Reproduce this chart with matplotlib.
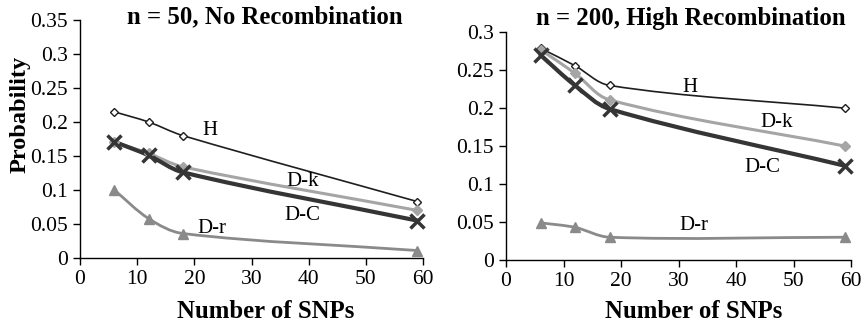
import matplotlib
matplotlib.use("Agg")
import matplotlib.pyplot as plt
from matplotlib.path import Path
from matplotlib.patches import PathPatch
import numpy as np

plt.rcParams['font.family'] = ['Liberation Serif', 'DejaVu Serif']

snps = [6, 12, 18, 59]

# Panel 1: n = 50, No Recombination
left_H = [0.215, 0.200, 0.180, 0.083]
left_Dk = [0.170, 0.154, 0.134, 0.070]
left_DC = [0.171, 0.151, 0.126, 0.055]
left_Dr = [0.100, 0.058, 0.036, 0.011]

# Panel 2: n = 200, High Recombination
right_H = [0.279, 0.256, 0.230, 0.200]
right_Dk = [0.277, 0.246, 0.211, 0.150]
right_DC = [0.270, 0.230, 0.199, 0.124]
right_Dr = [0.049, 0.043, 0.030, 0.030]

series_names = ['H', 'D-k', 'D-C', 'D-r']
titles = ['n = 50, No Recombination', 'n = 200, High Recombination']
xticks = [0, 10, 20, 30, 40, 50, 60]
left_yticks = [0, 0.05, 0.1, 0.15, 0.2, 0.25, 0.3, 0.35]
left_yticklabels = ['0', '0.05', '0.1', '0.15', '0.2', '0.25', '0.3', '0.35']
right_yticks = [0, 0.05, 0.1, 0.15, 0.2, 0.25, 0.3]
right_yticklabels = ['0', '0.05', '0.1', '0.15', '0.2', '0.25', '0.3']

styles = {
    'H':   dict(color='#1e1e1e', lw=1.2, marker='D', ms=4.5, mfc='white', mec='#1e1e1e', mew=1.0),
    'D-k': dict(color='#a5a5a5', lw=2.2, marker='D', ms=5.5, mfc='#a5a5a5', mec='#a5a5a5', mew=1.0),
    'D-C': dict(color='#353535', lw=3.0, marker='x', ms=10, mfc='#353535', mec='#353535', mew=2.5),
    'D-r': dict(color='#8a8a8a', lw=2.0, marker='^', ms=7.5, mfc='#8a8a8a', mec='#8a8a8a', mew=1.0),
}


def smooth_path(xs, ys, sx, sy, k=0.33):
    # smoothing computed in pixel-like space (sx, sy = pixels per data unit)
    pts = np.column_stack([np.asarray(xs, float) * sx, np.asarray(ys, float) * sy])
    n = len(pts)
    verts = [pts[0]]
    codes = [Path.MOVETO]

    def tangent(i):
        a = pts[i - 1] if i > 0 else pts[i]
        b = pts[i + 1] if i + 1 < n else pts[i]
        d = b - a
        return d / np.hypot(*d)

    for i in range(n - 1):
        p0, p1 = pts[i], pts[i + 1]
        L = np.hypot(*(p1 - p0))
        c1 = p0 + tangent(i) * L * k
        c2 = p1 - tangent(i + 1) * L * k
        verts += [c1, c2, p1]
        codes += [Path.CURVE4] * 3
    verts = np.array(verts)
    verts[:, 0] /= sx
    verts[:, 1] /= sy
    return Path(verts, codes)


def draw_series(ax, ys, name, sx, sy):
    st = styles[name]
    patch = PathPatch(smooth_path(snps, ys, sx, sy), facecolor='none', edgecolor=st['color'],
                      lw=st['lw'], joinstyle='round', capstyle='round', zorder=2)
    ax.add_patch(patch)
    ax.plot(snps, ys, linestyle='none', marker=st['marker'], ms=st['ms'],
            mfc=st['mfc'], mec=st['mec'], mew=st['mew'], zorder=3, clip_on=False)


fig = plt.figure(figsize=(8.65, 3.24), dpi=100)

ax1 = fig.add_axes([80 / 865, 1 - 258 / 324, 343 / 865, 238 / 324])
ax2 = fig.add_axes([506 / 865, 1 - 260 / 324, 345 / 865, 227.7 / 324])

panels = [
    (ax1, [left_H, left_Dk, left_DC, left_Dr], 0.35, left_yticks, left_yticklabels,
     [(22.7, 0.188), (39.0, 0.113), (38.9, 0.062), (23.0, 0.044)], 343, 238),
    (ax2, [right_H, right_Dk, right_DC, right_Dr], 0.30, right_yticks, right_yticklabels,
     [(32.0, 0.2275), (47.1, 0.181), (44.5, 0.1217), (32.6, 0.0461)], 345, 227.7),
]

for ax, data, ymax, yt, ytl, lblpos, wpx, hpx in panels:
    sx = wpx / 60.0
    sy = hpx / ymax
    for ys, name in zip(data, series_names):
        draw_series(ax, ys, name, sx, sy)
    for (lx, ly), name in zip(lblpos, series_names):
        ax.text(lx, ly, name, fontsize=15, ha='center', va='center', color='black', zorder=4)
    ax.set_xlim(0, 60)
    ax.set_ylim(0, ymax)
    ax.set_xticks(xticks)
    ax.set_xticklabels([str(v) for v in xticks])
    ax.set_yticks(yt)
    ax.set_yticklabels(ytl)
    for s in ['top', 'right']:
        ax.spines[s].set_visible(False)
    for s in ['left', 'bottom']:
        ax.spines[s].set_color('black')
        ax.spines[s].set_linewidth(1.0)
    ax.tick_params(axis='both', direction='out', length=5, width=1.0, labelsize=15.5,
                   colors='black', pad=4)
    ax.set_facecolor('none')

fig.text(265 / 865, 1 - 17 / 324, titles[0], fontsize=17.8, fontweight='bold', ha='center', va='center')
fig.text(691 / 865, 1 - 18 / 324, titles[1], fontsize=17.8, fontweight='bold', ha='center', va='center')
fig.text(266 / 865, 1 - 311 / 324, 'Number of SNPs', fontsize=17.8, fontweight='bold', ha='center', va='center')
fig.text(694 / 865, 1 - 311 / 324, 'Number of SNPs', fontsize=17.8, fontweight='bold', ha='center', va='center')
fig.text(20 / 865, 1 - 114 / 324, 'Probability', fontsize=17.5, fontweight='bold', ha='center', va='center',
         rotation=90)

fig.savefig('out.png', dpi=100)
